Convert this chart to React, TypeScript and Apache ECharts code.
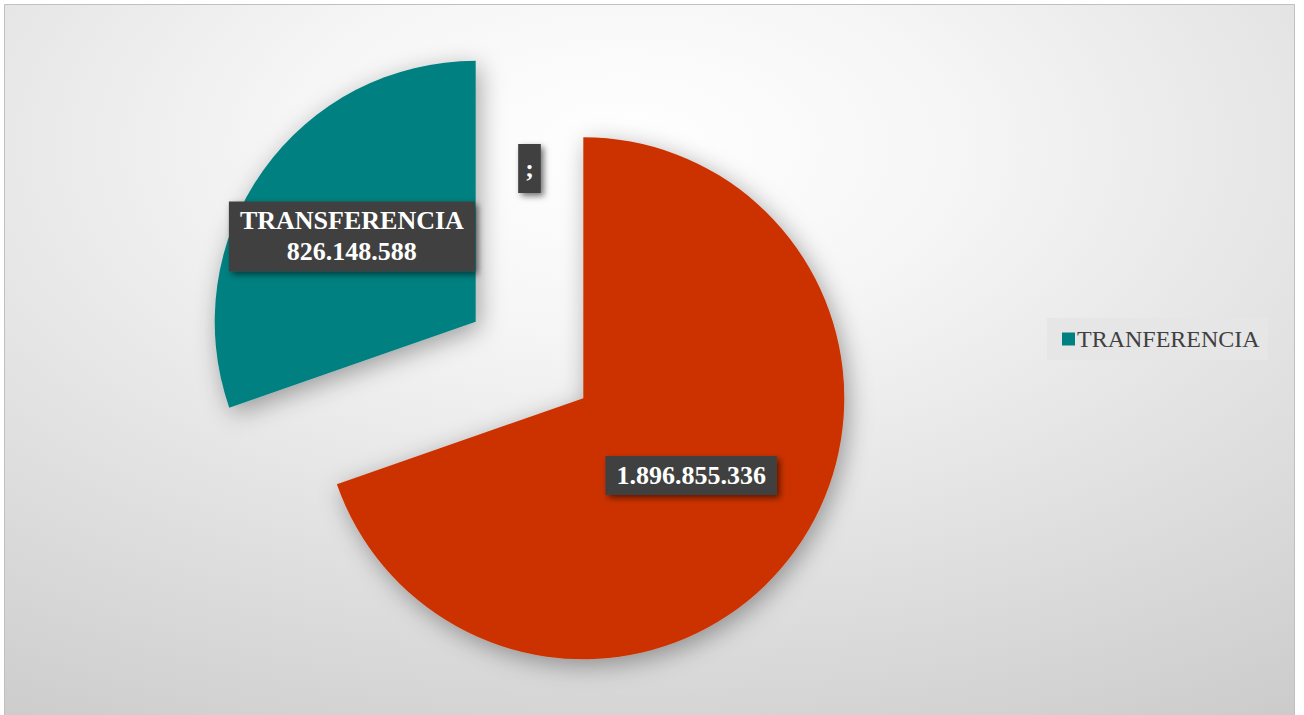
import React, { useEffect, useRef } from "react";
import * as echarts from "echarts";

// ---- data ----
const sliceNames: string[] = ["", "TRANFERENCIA", ";"];
const sliceValues: number[] = [1896855336, 826148588, 0];
const labelPrefixes: string[] = ["", "TRANSFERENCIA", ";"];
const sliceColors: string[] = ["#CC3300", "#008080", "#CC3300"];
const legendItems: string[] = ["TRANFERENCIA"];

const fmt = (v: number) => String(Math.round(v)).replace(/\B(?=(\d{3})+(?!\d))/g, ".");

export default function App() {
  const ref = useRef<HTMLDivElement>(null);
  useEffect(() => {
    document.body.style.margin = "0";
    const chart = echarts.init(ref.current!, null, { renderer: "svg" });
    const serif = "'Liberation Serif', 'Times New Roman', serif";
    const labelShifts: number[][] = [[-1, 0], [-15, -8], [0, -58]];
    const data = sliceNames.map((n, i) => ({
      name: n,
      value: sliceValues[i],
      selected: sliceValues[i] > 0,
      itemStyle: { color: sliceColors[i] },
      label: { padding: i === 2 ? [9, 7, 9, 7] : [4, 11, 4, 11] },
    }));
    chart.setOption({
      animation: false,
      graphic: [
        {
          type: "rect",
          z: -10,
          silent: true,
          shape: { x: 4.5, y: 4.5, width: 1290, height: 716 },
          style: {
            fill: {
              type: "radial",
              x: 0.48,
              y: 0.2,
              r: 1.15,
              colorStops: [
                { offset: 0, color: "#ffffff" },
                { offset: 0.22, color: "#f6f6f6" },
                { offset: 1, color: "#bfbfbf" },
              ],
            },
            stroke: "#c0c0c0",
            lineWidth: 1,
          },
        },
      ],
      legend: {
        data: legendItems,
        left: 1047,
        top: 318,
        orient: "horizontal",
        icon: "rect",
        itemWidth: 13,
        itemHeight: 13,
        itemGap: 10,
        padding: [9, 8, 9, 15],
        backgroundColor: "#e6e6e6",
        selectedMode: false,
        textStyle: { fontFamily: serif, fontSize: 24, color: "#404040", padding: [0, 0, 0, -3] },
      },
      series: [
        {
          type: "pie",
          center: [529.5, 360],
          radius: 261,
          startAngle: 90,
          clockwise: true,
          selectedMode: "multiple",
          selectedOffset: 66,
          avoidLabelOverlap: false,
          minShowLabelAngle: 0,
          emphasis: { disabled: true },
          itemStyle: {
            shadowBlur: 25,
            shadowColor: "rgba(0,0,0,0.35)",
            shadowOffsetX: 4,
            shadowOffsetY: 6,
          },
          labelLayout: (p: any) => ({ dx: labelShifts[p.dataIndex][0], dy: labelShifts[p.dataIndex][1] }),
          label: {
            show: true,
            position: "inside",
            fontFamily: serif,
            fontWeight: "bold",
            fontSize: 26,
            lineHeight: 31,
            color: "#ffffff",
            backgroundColor: "#404040",
            shadowColor: "rgba(0,0,0,0.55)",
            shadowBlur: 6,
            shadowOffsetX: 3,
            shadowOffsetY: 3,
            formatter: (p: any) => {
              const i = p.dataIndex;
              if (!sliceValues[i]) return labelPrefixes[i];
              return labelPrefixes[i] ? labelPrefixes[i] + "\n" + fmt(sliceValues[i]) : fmt(sliceValues[i]);
            },
          },
          labelLine: { show: false },
          data,
        },
      ],
    });
    return () => chart.dispose();
  }, []);
  return <div ref={ref} style={{ width: 1304, height: 715 }} />;
}
